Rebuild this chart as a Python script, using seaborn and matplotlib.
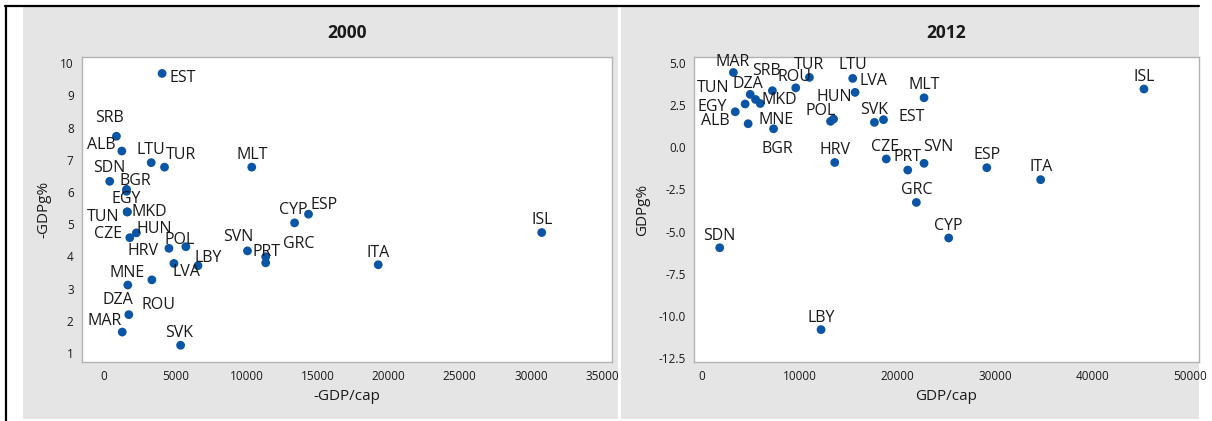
import matplotlib
matplotlib.use("Agg")
import matplotlib.pyplot as plt
import seaborn as sns
import pandas as pd
from matplotlib.patches import Rectangle
from matplotlib.lines import Line2D
from matplotlib.ticker import FormatStrFormatter

# ---------------- data ----------------
countries_2000 = ["EST", "SRB", "ALB", "LTU", "TUR", "MLT", "SDN", "BGR", "EGY", "TUN",
                  "MKD", "CZE", "HUN", "HRV", "POL", "LVA", "LBY", "SVN", "PRT", "GRC",
                  "CYP", "ESP", "ISL", "ITA", "MNE", "ROU", "DZA", "MAR", "SVK"]
gdpcap_2000 = [4080, 870, 1250, 3315, 4250, 10380, 400, 1580, 1580, 1620,
               1640, 1810, 2270, 4560, 5750, 4910, 6600, 10080, 11360, 11360,
               13390, 14370, 30760, 19270, 1670, 3360, 1740, 1280, 5380]
gdpg_2000 = [9.68, 7.73, 7.27, 6.91, 6.77, 6.77, 6.33, 6.08, 6.02, 5.38,
             5.38, 4.58, 4.73, 4.25, 4.30, 3.78, 3.71, 4.17, 3.99, 3.80,
             5.04, 5.31, 4.74, 3.74, 3.11, 3.27, 2.19, 1.65, 1.24]

countries_2012 = ["MAR", "SRB", "TUR", "ROU", "LTU", "TUN", "DZA", "LVA", "MLT", "ISL",
                  "EGY", "MKD", "HUN", "SVK", "POL", "ALB", "MNE", "EST", "BGR", "HRV",
                  "CZE", "SVN", "PRT", "ESP", "ITA", "GRC", "CYP", "SDN", "LBY"]
gdpcap_2012 = [3230, 7220, 11010, 9610, 15440, 4430, 4950, 15680, 22740, 45240,
               3420, 5980, 13480, 17660, 13170, 4740, 5500, 18590, 7340, 13600,
               18870, 22740, 21070, 29160, 34670, 21950, 25260, 1830, 12200]
gdpg_2012 = [4.44, 3.36, 4.15, 3.53, 4.09, 2.57, 3.14, 3.26, 2.94, 3.46,
             2.11, 2.60, 1.68, 1.48, 1.54, 1.40, 2.84, 1.64, 1.10, -0.90,
             -0.69, -0.95, -1.35, -1.21, -1.92, -3.27, -5.38, -5.96, -10.82]

xticks_2000 = [0, 5000, 10000, 15000, 20000, 25000, 30000, 35000]
yticks_2000 = [1, 2, 3, 4, 5, 6, 7, 8, 9, 10]
xticks_2012 = [0, 10000, 20000, 30000, 40000, 50000]
yticks_2012 = [-12.5, -10.0, -7.5, -5.0, -2.5, 0.0, 2.5, 5.0]

# label placement offsets (image pixels: right, down) – styling only
offsets_2000 = {
    "EST": (21, 3), "SRB": (-7, -20), "ALB": (-21, -8), "LTU": (0, -15), "TUR": (16, -14),
    "MLT": (0, -14), "SDN": (0, -15), "BGR": (9, -10), "EGY": (0, 6), "TUN": (-24, 3),
    "MKD": (22, -2), "CZE": (-22, -6), "HUN": (18, -6), "HRV": (-26, 1), "POL": (-6, -9),
    "LVA": (13, 7), "LBY": (10, -10), "SVN": (-9, -16), "PRT": (1, -7), "GRC": (33, -21),
    "CYP": (-1, -15), "ESP": (16, -11), "ISL": (0, -15), "ITA": (0, -14), "MNE": (-1, -14),
    "ROU": (7, 23), "DZA": (-11, -17), "MAR": (-18, -13), "SVK": (-1, -14),
}
offsets_2012 = {
    "MAR": (-1, -13), "SRB": (-6, -22), "TUR": (0, -14), "ROU": (-1, -13), "LTU": (0, -15),
    "TUN": (-32, -18), "DZA": (-2, -12), "LVA": (18, -13), "MLT": (0, -15), "ISL": (0, -14),
    "EGY": (-23, -7), "MKD": (19, -6), "HUN": (1, -24), "SVK": (0, -14), "POL": (-10, -12),
    "ALB": (-33, -5), "MNE": (21, 19), "EST": (28, -5), "BGR": (4, 18), "HRV": (0, -14),
    "CZE": (-1, -14), "SVN": (14, -18), "PRT": (0, -15), "ESP": (0, -15), "ITA": (0, -15),
    "GRC": (0, -14), "CYP": (0, -14), "SDN": (0, -14), "LBY": (0, -14),
}

df2000 = pd.DataFrame({"country": countries_2000, "gdpcap": gdpcap_2000, "gdpg": gdpg_2000})
df2012 = pd.DataFrame({"country": countries_2012, "gdpcap": gdpcap_2012, "gdpg": gdpg_2012})

# ---------------- style ----------------
sns.set_style("white")
plt.rcParams["font.family"] = ["Open Sans", "DejaVu Sans"]

W, H = 1212, 421
fig = plt.figure(figsize=(W / 100, H / 100), dpi=100)
fig.patch.set_facecolor("white")

PANEL = "#E5E5E5"
BLUE = "#0A55A5"
SPINE = "#B3B3B3"
TXT = "#1a1a1a"

def px_rect(x0, y0, x1, y1):
    return [x0 / W, 1 - y1 / H, (x1 - x0) / W, (y1 - y0) / H]

# gray panels
for (x0, x1) in [(23, 618), (621, 1199)]:
    r = px_rect(x0, 7, x1, 419)
    fig.patches.append(Rectangle((r[0], r[1]), r[2], r[3], transform=fig.transFigure,
                                 facecolor=PANEL, edgecolor="none", zorder=-10))
# black frame lines
fig.lines.append(Line2D([5 / W, 1199 / W], [1 - 6 / H, 1 - 6 / H], transform=fig.transFigure,
                        color="black", lw=1.6, zorder=-5))
fig.lines.append(Line2D([6 / W, 6 / W], [1 - 6 / H, 0], transform=fig.transFigure,
                        color="black", lw=1.6, zorder=-5))

ax1 = fig.add_axes(px_rect(82, 57, 612, 362))
ax2 = fig.add_axes(px_rect(694, 57, 1199, 362))
ax1.set_zorder(2)
ax2.set_zorder(2)

def style_axes(ax, title, xlabel, ylabel):
    ax.set_facecolor("white")
    for s in ax.spines.values():
        s.set_color(SPINE)
        s.set_linewidth(1.0)
    ax.tick_params(axis="both", direction="out", length=4, width=0.8, color=SPINE,
                   labelsize=8.5, labelcolor=TXT, pad=2)
    ax.set_xlabel(xlabel, fontsize=11, color=TXT, labelpad=4)
    ax.set_ylabel(ylabel, fontsize=11, color=TXT, labelpad=6)
    ax.set_title(title, fontsize=12.5, fontweight="bold", color=TXT, pad=14)

def draw(ax, df, offsets):
    sns.scatterplot(data=df, x="gdpcap", y="gdpg", ax=ax, color=BLUE, s=40,
                    edgecolor="none", linewidth=0, legend=False, zorder=3)
    for c, x, y in zip(df["country"], df["gdpcap"], df["gdpg"]):
        dx, dy = offsets[c]
        ax.annotate(c, (x, y), xytext=(dx, -(dy + 6)), textcoords="offset pixels",
                    ha="center", va="baseline", fontsize=11.5, color=TXT, zorder=4)

draw(ax1, df2000, offsets_2000)
ax1.set_xlim(-1550, 35700)
ax1.set_ylim(0.72, 10.19)
ax1.set_xticks(xticks_2000)
ax1.set_yticks(yticks_2000)
style_axes(ax1, "2000", "-GDP/cap", "-GDPg%")

draw(ax2, df2012, offsets_2012)
ax2.set_xlim(-800, 50870)
ax2.set_ylim(-12.74, 5.36)
ax2.set_xticks(xticks_2012)
ax2.set_yticks(yticks_2012)
ax2.yaxis.set_major_formatter(FormatStrFormatter("%.1f"))
style_axes(ax2, "2012", "GDP/cap", "GDPg%")

fig.savefig("out.png", dpi=100, facecolor="white")
